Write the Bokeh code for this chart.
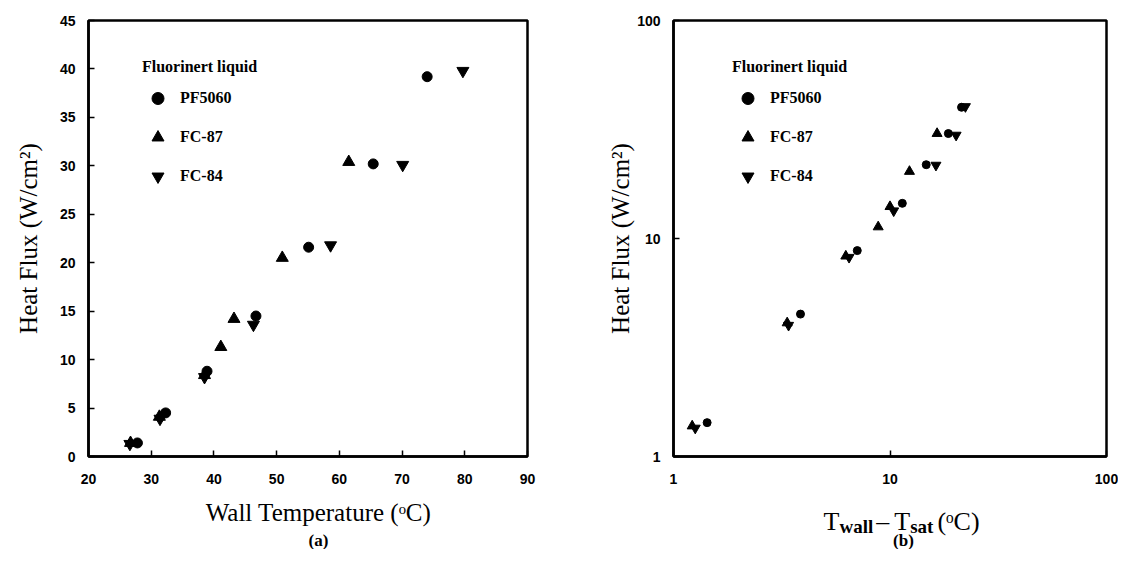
from bokeh.plotting import figure
from bokeh.layouts import row, column
from bokeh.models import (Range1d, FixedTicker, PrintfTickFormatter, Legend, LegendItem, Label)
from bokeh.embed import file_html
from bokeh.resources import INLINE

# ---------------- data ----------------
series_names = ["PF5060", "FC-87", "FC-84"]
series_markers = ["circle", "triangle", "inverted_triangle"]

# (a) heat flux vs wall temperature
pf5060_twall = [74.0, 65.4, 55.1, 46.7, 38.9, 32.3, 27.8]
pf5060_q = [39.2, 30.2, 21.6, 14.5, 8.8, 4.5, 1.4]
fc87_twall = [61.5, 50.9, 43.2, 41.1, 38.5, 31.3, 26.7]
fc87_q = [30.4, 20.5, 14.2, 11.3, 8.4, 4.1, 1.4]
fc84_twall = [79.7, 70.1, 58.6, 46.3, 38.5, 31.4, 26.6]
fc84_q = [39.8, 30.1, 21.8, 13.6, 8.2, 3.9, 1.3]

# (b) heat flux vs wall superheat
pf5060_dt = [21.4, 18.6, 14.7, 11.4, 7.06, 3.86, 1.43]
pf5060_qb = [40.0, 30.3, 21.8, 14.5, 8.8, 4.5, 1.43]
fc87_dt = [16.5, 12.3, 10.0, 8.82, 6.25, 3.35, 1.22]
fc87_qb = [30.3, 20.3, 14.0, 11.3, 8.3, 4.1, 1.38]
fc84_dt = [22.3, 20.2, 16.3, 10.4, 6.47, 3.4, 1.26]
fc84_qb = [40.3, 29.8, 21.7, 13.4, 8.2, 4.0, 1.35]

xticks_a = [20, 30, 40, 50, 60, 70, 80, 90]
yticks_a = [0, 5, 10, 15, 20, 25, 30, 35, 40, 45]
ticks_b = [1, 10, 100]

TICK_FONT = "Liberation Sans"
SERIF = "Liberation Serif"
TXT_H = 53  # height of the strip under each plot that holds titles/captions


def style(p):
    p.outline_line_color = "black"
    p.outline_line_width = 2.5
    p.grid.grid_line_color = None
    for ax in (p.xaxis, p.yaxis):
        ax.axis_line_width = 2.5
        ax.axis_line_color = "black"
        ax.major_tick_in = 6
        ax.major_tick_out = 0
        ax.major_tick_line_width = 1.5
        ax.minor_tick_line_color = None
        ax.major_label_text_font = TICK_FONT
        ax.major_label_text_font_style = "bold"
        ax.major_label_text_font_size = "14px"
        ax.major_label_text_color = "black"
        ax.axis_label_text_font = SERIF
        ax.axis_label_text_font_style = "normal"
        ax.axis_label_text_font_size = "25px"
        ax.axis_label_text_color = "black"
    p.xaxis.major_label_standoff = 17
    p.yaxis.major_label_standoff = 13


def add_legend(p, renderers, xoff):
    items = [LegendItem(label=n, renderers=[r]) for n, r in zip(series_names, renderers)]
    lg = Legend(items=items, location=(xoff, 265), title="Fluorinert liquid",
                title_text_font=SERIF, title_text_font_style="bold", title_text_font_size="16px",
                title_text_color="black", title_standoff=7,
                label_text_font=SERIF, label_text_font_style="bold", label_text_font_size="16px",
                label_text_color="black",
                glyph_width=31, glyph_height=30, label_height=30, spacing=9, label_standoff=7,
                padding=0, margin=0, border_line_alpha=0, background_fill_alpha=0)
    p.add_layout(lg, "center")


def text_strip(fw, bl, br):
    f = figure(frame_width=fw, frame_height=TXT_H,
               min_border_left=bl, min_border_right=br, min_border_top=0, min_border_bottom=0,
               x_range=Range1d(0, 1), y_range=Range1d(0, 1),
               x_axis_location=None, y_axis_location=None,
               output_backend="svg", toolbar_location=None)
    f.outline_line_color = None
    f.grid.visible = False
    return f


def txt(f, x, y, text, size, style="normal", align="center", baseline="middle"):
    f.add_layout(Label(x=x, y=y, x_units="screen", y_units="screen", text=text,
                       text_font=SERIF, text_font_style=style, text_font_size=f"{size}px",
                       text_color="black", text_align=align, text_baseline=baseline))


# ---------------- (a) ----------------
p1 = figure(frame_width=439, frame_height=436,
            min_border_left=88, min_border_right=73, min_border_top=20, min_border_bottom=40,
            x_range=Range1d(20, 90), y_range=Range1d(0, 45),
            output_backend="svg", toolbar_location=None)
style(p1)
p1.xaxis.ticker = FixedTicker(ticks=xticks_a)
p1.yaxis.ticker = FixedTicker(ticks=yticks_a)
p1.yaxis.axis_label = "Heat Flux (W/cm²)"
p1.yaxis.axis_label_standoff = 15

ra = []
for xs, ys, mk in zip([pf5060_twall, fc87_twall, fc84_twall], [pf5060_q, fc87_q, fc84_q], series_markers):
    ra.append(p1.scatter(xs, ys, marker=mk, size=10 if mk == "circle" else 12,
                         fill_color="black", line_color="black"))
add_legend(p1, ra, 54)

s1 = text_strip(439, 88, 73)
txt(s1, 230, 37, "Wall Temperature (ᵒC)", 25)
txt(s1, 230, 9, "(a)", 17, "bold")

# ---------------- (b) ----------------
p2 = figure(frame_width=433, frame_height=436,
            min_border_left=73, min_border_right=12, min_border_top=20, min_border_bottom=40,
            x_axis_type="log", y_axis_type="log",
            x_range=Range1d(1, 100), y_range=Range1d(1, 100),
            output_backend="svg", toolbar_location=None)
style(p2)
p2.xaxis.ticker = FixedTicker(ticks=ticks_b)
p2.yaxis.ticker = FixedTicker(ticks=ticks_b)
p2.xaxis.formatter = PrintfTickFormatter(format="%d")
p2.yaxis.formatter = PrintfTickFormatter(format="%d")
p2.yaxis.axis_label = "Heat Flux (W/cm²)"
p2.yaxis.axis_label_standoff = 0

rb = []
for xs, ys, mk in zip([pf5060_dt, fc87_dt, fc84_dt], [pf5060_qb, fc87_qb, fc84_qb], series_markers):
    rb.append(p2.scatter(xs, ys, marker=mk, size=8 if mk == "circle" else 10,
                         fill_color="black", line_color="black"))
add_legend(p2, rb, 59)

s2 = text_strip(433, 73, 12)
# composite x-axis title: T_wall – T_sat (ᵒC)  (text, size, style, baseline shift, advance)
parts = [("T", 26, "normal", 0, 15.9), ("wall", 19, "bold", -5, 36.8),
         ("–", 26, "normal", 0, 18.0), ("T", 26, "normal", 0, 15.9),
         ("sat", 19, "bold", -5, 27.2), ("(ᵒC)", 26, "normal", 0, 46.0)]
total = sum(p[-1] for p in parts)
x0 = 230 - total / 2
for t, fs, fst, dy, adv in parts:
    txt(s2, x0, 28 + dy, t, fs, fst, align="left", baseline="alphabetic")
    x0 += adv
txt(s2, 230, 9, "(b)", 17, "bold")

layout = row(column(p1, s1), column(p2, s2))
open("out.html", "w").write(file_html(layout, INLINE))
